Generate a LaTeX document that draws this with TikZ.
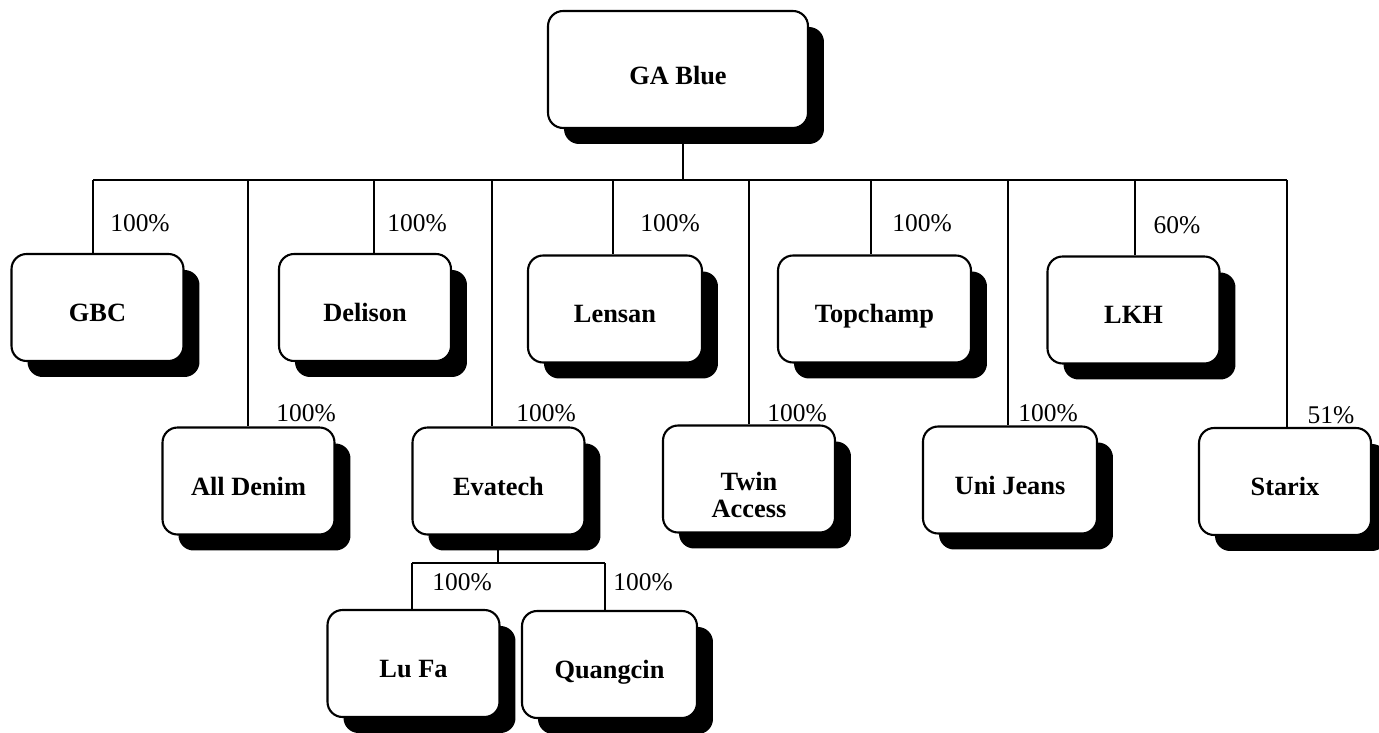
\documentclass[tikz,border=0pt]{standalone}
\usepackage{fontspec}
\setmainfont{Liberation Serif}
\usetikzlibrary{shadows,backgrounds}
\tikzset{
  x=0.02cm, y=-0.02cm,
  cobox/.style={draw, line width=1.2pt, rounded corners=0.3cm, fill=white,
    minimum width=3.44cm, minimum height=2.14cm, inner sep=0pt,
    font=\fontsize{15}{15.8}\selectfont\bfseries,
    text height=0.56cm, text depth=0pt,
    drop shadow={shadow xshift=0.32cm, shadow yshift=-0.32cm, fill=black, opacity=1}},
  pct/.style={font=\fontsize{14.5}{17}\selectfont, inner sep=0pt},
  link/.style={line width=0.9pt}
}
\begin{document}
\begin{tikzpicture}
\useasboundingbox (0,0) rectangle (1379,733);
% boxes
\node[cobox, minimum width=5.2cm, minimum height=2.34cm, text height=0.6cm] (GA) at (678,69.5) {GA Blue};
\node[cobox] (GBC) at (97.5,307.5) {GBC};
\node[cobox] (Delison) at (365,307.5) {Delison};
\node[cobox, minimum width=3.48cm] (Lensan) at (615,309) {Lensan};
\node[cobox, minimum width=3.86cm] (Topchamp) at (874.5,309) {Topchamp};
\node[cobox] (LKH) at (1133.5,310) {LKH};
\node[cobox] (AllDenim) at (248.5,481) {All Denim};
\node[cobox] (Evatech) at (498.5,481) {Evatech};
\node[cobox, text height=1.56cm] (Twin) at (749,479) {\begin{tabular}[b]{@{}c@{}}Twin\\Access\end{tabular}};
\node[cobox, minimum width=3.48cm] (UniJeans) at (1010,480) {Uni Jeans};
\node[cobox] (Starix) at (1285,481.5) {Starix};
\node[cobox] (LuFa) at (413.5,663.5) {Lu Fa};
\node[cobox, minimum width=3.5cm] (Quangcin) at (609.5,664.5) {Quangcin};
% bus coordinates
\coordinate (busL) at (93,180);
\coordinate (busR) at (1287,180);
\coordinate (busGA) at (683,180);
\coordinate (tGBC) at (93,180);
\coordinate (tAllDenim) at (248,180);
\coordinate (tDelison) at (374,180);
\coordinate (tEvatech) at (492,180);
\coordinate (tLensan) at (613,180);
\coordinate (tTwin) at (749,180);
\coordinate (tTopchamp) at (871,180);
\coordinate (tUniJeans) at (1008,180);
\coordinate (tLKH) at (1135,180);
\coordinate (tStarix) at (1287,180);
\coordinate (ev) at (498,563);
\coordinate (subL) at (412,563);
\coordinate (subR) at (605,563);
\begin{scope}[on background layer]
\draw[link] (GA.south -| busGA) -- (busGA);
\draw[link] (busL) -- (busR);
\foreach \n in {GBC,AllDenim,Delison,Evatech,Lensan,Twin,Topchamp,UniJeans,LKH,Starix}
  \draw[link] (t\n) -- (t\n |- \n.north);
\draw[link] (Evatech.south -| ev) -- (ev);
\draw[link] (subL) -- (subR);
\draw[link] (subL) -- (subL |- LuFa.north);
\draw[link] (subR) -- (subR |- Quangcin.north);
\end{scope}
% percentages
\node[pct] (pGBC) at (140,223) {100\%};
\node[pct] (pDelison) at (417,223) {100\%};
\node[pct] (pLensan) at (670,223) {100\%};
\node[pct] (pTopchamp) at (922,223) {100\%};
\node[pct] (pLKH) at (1177,225) {60\%};
\node[pct] (pAllDenim) at (306,413) {100\%};
\node[pct] (pEvatech) at (546,413) {100\%};
\node[pct] (pTwin) at (797,413) {100\%};
\node[pct] (pUniJeans) at (1048,413) {100\%};
\node[pct] (pStarix) at (1331,415) {51\%};
\node[pct] (pLuFa) at (462,582) {100\%};
\node[pct] (pQuangcin) at (643,582) {100\%};
\end{tikzpicture}
\end{document}
